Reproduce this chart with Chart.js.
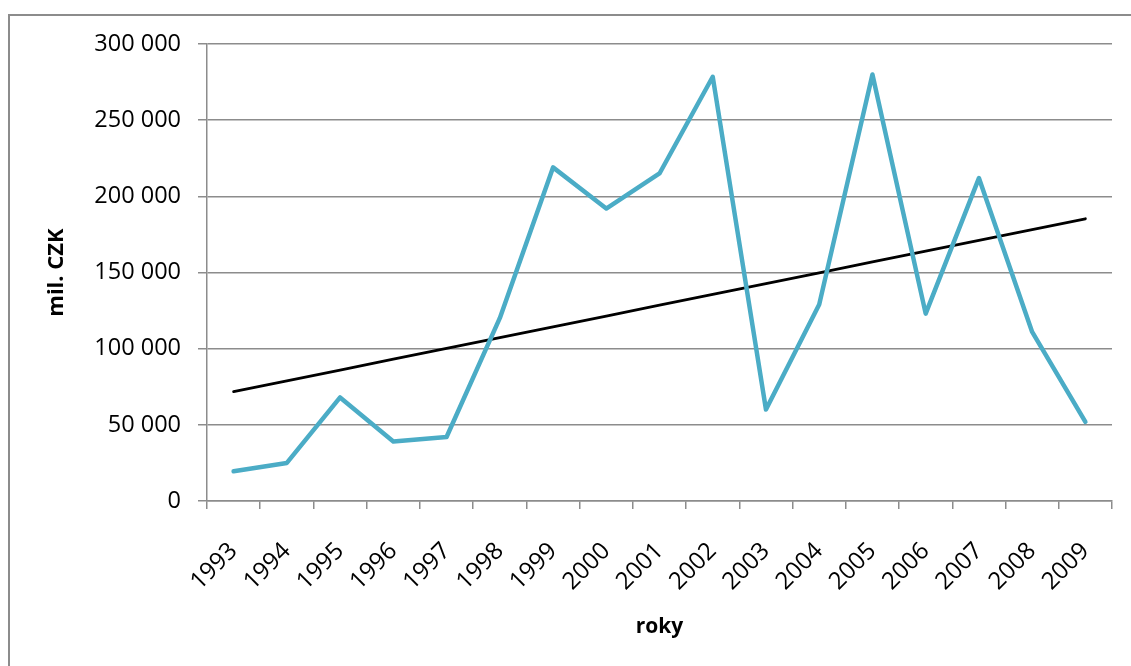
<!DOCTYPE html>
<html>
<head>
<meta charset="utf-8">
<script src="https://cdn.jsdelivr.net/npm/chart.js@4/dist/chart.umd.min.js"></script>
<style>
  html, body { margin: 0; padding: 0; background: #ffffff; }
  #wrap { position: relative; width: 1131px; height: 666px; }
</style>
</head>
<body>
<div id="wrap"><canvas id="c" width="1131" height="666"></canvas></div>
<script>
// Years on the category axis
const years = ['1993','1994','1995','1996','1997','1998','1999','2000','2001',
               '2002','2003','2004','2005','2006','2007','2008','2009'];
// Annual amounts, mil. CZK
const amounts = [19500, 25000, 68000, 39000, 42000, 120000, 219000, 192000, 215000,
                 278500, 60000, 129000, 280000, 123000, 212000, 111000, 52000];
// Value axis ticks
const yTicks = [0, 50000, 100000, 150000, 200000, 250000, 300000];

// Linear least-squares trend of the amounts
function linearTrend(values) {
  const n = values.length;
  const mx = (n - 1) / 2;
  const my = values.reduce((a, b) => a + b, 0) / n;
  let sxy = 0, sxx = 0;
  values.forEach((v, i) => { sxy += (i - mx) * (v - my); sxx += (i - mx) * (i - mx); });
  const slope = sxy / sxx;
  return values.map((_, i) => my + slope * (i - mx));
}
const trend = linearTrend(amounts);

const fmt = v => String(v).replace(/\B(?=(\d{3})+(?!\d))/g, ' ');

// Frame around the chart object
const framePlugin = {
  id: 'frame',
  beforeDraw(chart) {
    const ctx = chart.ctx;
    ctx.save();
    ctx.strokeStyle = '#8c8c8c';
    ctx.lineWidth = 2;
    ctx.beginPath();
    ctx.moveTo(9, 700);
    ctx.lineTo(9, 15);
    ctx.lineTo(1140, 15);
    ctx.stroke();
    ctx.restore();
  }
};

const gridColor = '#8c8c8c';
const font = 'Open Sans';

new Chart(document.getElementById('c'), {
  type: 'line',
  data: {
    labels: years,
    datasets: [
      {
        data: amounts,
        borderColor: '#4bacc6',
        borderWidth: 4.5,
        pointRadius: 0,
        borderCapStyle: 'round',
        borderJoinStyle: 'round',
        tension: 0
      },
      {
        data: trend,
        borderColor: '#000000',
        borderWidth: 2.8,
        pointRadius: 0,
        borderCapStyle: 'round',
        tension: 0
      }
    ]
  },
  options: {
    responsive: false,
    animation: false,
    events: [],
    layout: { padding: { left: 30, top: 44, right: 19, bottom: 0 } },
    plugins: { legend: { display: false }, tooltip: { enabled: false } },
    scales: {
      x: {
        type: 'category',
        offset: true,
        grid: {
          offset: true,
          drawOnChartArea: false,
          drawTicks: true,
          tickLength: 8,
          color: gridColor,
          lineWidth: 1.5
        },
        border: { display: true, color: gridColor, width: 1.5 },
        ticks: {
          color: '#000000',
          font: { family: font, size: 24 },
          minRotation: 45,
          maxRotation: 45,
          padding: 28,
          autoSkip: false
        },
        title: {
          display: true,
          text: 'roky',
          color: '#000000',
          font: { family: font, size: 21, weight: 'bold' },
          padding: { top: 0, bottom: 26 }
        },
        afterFit(scale) {
          scale.height = 165;
          scale.paddingLeft = 0;
          scale.paddingRight = 0;
        }
      },
      y: {
        min: 0,
        max: 300000,
        afterBuildTicks(scale) { scale.ticks = yTicks.map(v => ({ value: v })); },
        grid: {
          color: gridColor,
          lineWidth: 1.5,
          drawTicks: true,
          tickLength: 9
        },
        border: { display: true, color: gridColor, width: 1.5 },
        ticks: {
          color: '#000000',
          font: { family: font, size: 23.5 },
          padding: 17,
          callback: v => fmt(v)
        },
        title: {
          display: true,
          text: 'mil. CZK',
          color: '#000000',
          font: { family: font, size: 22, weight: 'bold' },
          padding: { top: 14, bottom: 0 }
        },
        afterFit(scale) { scale.width = 177; }
      }
    }
  },
  plugins: [framePlugin]
});
</script>
</body>
</html>
